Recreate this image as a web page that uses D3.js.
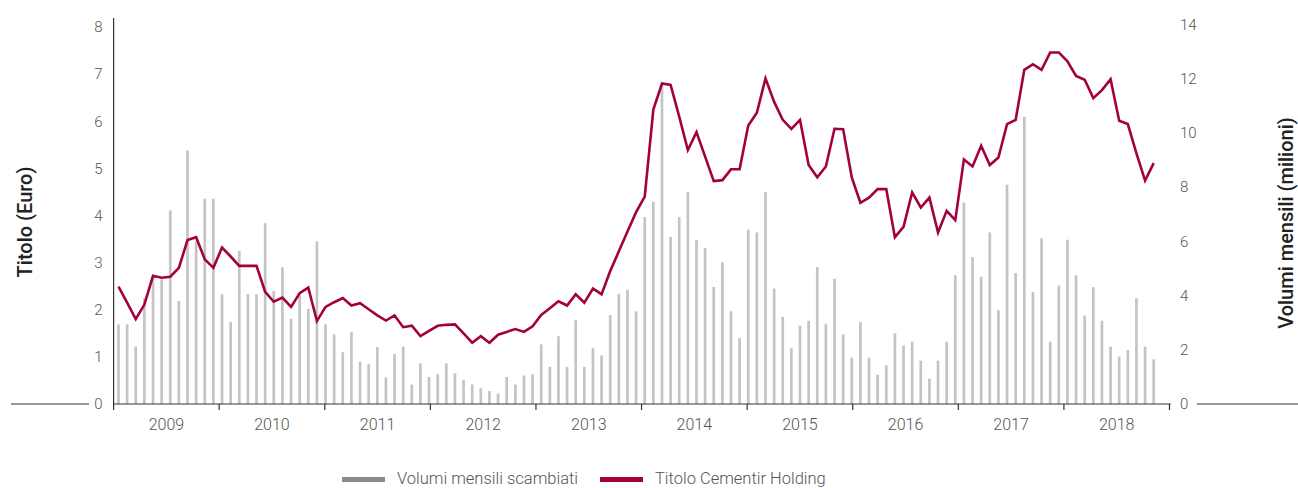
<!DOCTYPE html>
<html>
<head>
<meta charset="utf-8">
<script src="https://cdn.jsdelivr.net/npm/d3@7"></script>
<style>
  body { margin: 0; background: #fff; }
  svg { display: block; }
  text { font-family: Roboto, "Noto Sans", sans-serif; }
</style>
</head>
<body>
<script>
// monthly traded volumes (millions), Jan 2009 onwards
const volumes = [
  2.94, 2.94, 2.12, 3.9, 4.7, 4.6, 7.14, 3.8, 9.35, 6.0, 7.57, 7.57,
  4.05, 3.03, 5.65, 4.05, 4.05, 6.67, 4.17, 5.04, 3.14, 4.0, 3.51, 6.0,
  2.94, 2.57, 1.91, 2.65, 1.56, 1.47, 2.1, 0.98, 1.85, 2.12, 0.72, 1.5,
  1.0, 1.1, 1.5, 1.13, 0.89, 0.72, 0.58, 0.48, 0.38, 1.0, 0.72, 1.05,
  1.1, 2.2, 1.37, 2.5, 1.37, 3.09, 1.37, 2.06, 1.79, 3.28, 4.06, 4.21,
  3.42, 6.9, 7.46, 11.78, 6.16, 6.9, 7.82, 6.05, 5.76, 4.32, 5.23, 3.42,
  2.44, 6.43, 6.33, 7.82, 4.26, 3.21, 2.06, 2.89, 3.07, 5.05, 2.96, 4.62,
  2.57, 1.71, 3.03, 1.71, 1.08, 1.43, 2.61, 2.16, 2.3, 1.6, 0.94, 1.6,
  2.3, 4.75, 7.43, 5.42, 4.7, 6.33, 3.46, 8.09, 4.83, 10.6, 4.13, 6.11,
  2.3, 4.37, 6.06, 4.75, 3.26, 4.31, 3.07, 2.12, 1.75, 1.99, 3.9, 2.12,
  1.65
];

// share price (euro)
const prices = [
  2.49, 2.15, 1.80, 2.11, 2.72, 2.68, 2.70, 2.89, 3.48, 3.54, 3.07, 2.89,
  3.32, 3.13, 2.93, 2.93, 2.93, 2.38, 2.17, 2.26, 2.06, 2.35, 2.47, 1.76,
  2.06, 2.16, 2.25, 2.09, 2.14, 2.01, 1.88, 1.77, 1.88, 1.63, 1.66, 1.44,
  1.55, 1.66, 1.68, 1.69, 1.50, 1.30, 1.44, 1.30, 1.47, 1.53, 1.59, 1.53,
  1.65, 1.89, 2.03, 2.18, 2.09, 2.33, 2.15, 2.45, 2.33, 2.82, 3.24, 3.66,
  4.07, 4.40, 6.25, 6.80, 6.77, 6.10, 5.39, 5.77, 5.25, 4.73, 4.75, 4.98,
  4.98, 5.91, 6.18, 6.91, 6.41, 6.03, 5.84, 6.03, 5.07, 4.81, 5.04, 5.84,
  5.83, 4.81, 4.27, 4.38, 4.56, 4.56, 3.54, 3.76, 4.49, 4.17, 4.38, 3.64,
  4.10, 3.90, 5.19, 5.04, 5.48, 5.07, 5.23, 5.94, 6.03, 7.09, 7.21, 7.09,
  7.46, 7.46, 7.27, 6.96, 6.88, 6.49, 6.66, 6.89, 6.01, 5.94, 5.32, 4.74,
  5.11
];

const years = ["2009", "2010", "2011", "2012", "2013", "2014", "2015", "2016", "2017", "2018"];
const priceTicks = [0, 1, 2, 3, 4, 5, 6, 7, 8];
const volumeTicks = [0, 2, 4, 6, 8, 10, 12, 14];

const legendItems = [
  { label: "Volumi mensili scambiati", color: "#8c8c8c" },
  { label: "Titolo Cementir Holding", color: "#a3003f" }
];

const width = 1298, height = 488;
const baseY = 404;

const svg = d3.select("body").append("svg")
  .attr("width", width)
  .attr("height", height);

const months = d3.range(volumes.length);

// scales
const x = d3.scalePoint().domain(months).range([118.5, 1153.7]);
const xYear = d3.scaleBand().domain(years).range([113.6, 1169.5]);
const yPrice = d3.scaleLinear().domain([0, 8]).range([baseY, 27]);
const yVol = d3.scaleLinear().domain([0, 14]).range([baseY, 24.5]);

// bars
svg.append("g")
  .selectAll("line")
  .data(volumes)
  .enter()
  .append("line")
    .attr("x1", (d, i) => x(i))
    .attr("x2", (d, i) => x(i))
    .attr("y1", yVol(0))
    .attr("y2", d => yVol(d))
    .attr("stroke", "#c4c4c4")
    .attr("stroke-width", 2.7);

// price line
const line = d3.line()
  .x((d, i) => x(i))
  .y(d => yPrice(d));

svg.append("path")
  .datum(prices)
  .attr("d", line)
  .attr("fill", "none")
  .attr("stroke", "#a3003f")
  .attr("stroke-width", 2.6)
  .attr("stroke-linejoin", "miter");

// baseline pieces
const axisColor = "#333";
[[11, 89], [113.6, 1170.7], [1196.7, 1298]].forEach(seg => {
  svg.append("line")
    .attr("x1", seg[0]).attr("x2", seg[1])
    .attr("y1", baseY).attr("y2", baseY)
    .attr("stroke", axisColor).attr("stroke-width", 1.2);
});

// left vertical axis line
svg.append("line")
  .attr("x1", 113.6).attr("x2", 113.6)
  .attr("y1", 18).attr("y2", baseY)
  .attr("stroke", axisColor).attr("stroke-width", 1.2);

// left axis labels
const gLeft = svg.append("g")
  .attr("transform", "translate(113.6,0)")
  .call(d3.axisLeft(yPrice).tickValues(priceTicks).tickSize(0).tickPadding(11));
gLeft.select(".domain").remove();
gLeft.selectAll("text")
  .attr("fill", "#555")
  .style("font-size", "15px")
  .style("font-weight", 300);

// right axis labels
const gRight = svg.append("g")
  .attr("transform", "translate(1170,0)")
  .call(d3.axisRight(yVol).tickValues(volumeTicks).tickSize(0).tickPadding(10));
gRight.select(".domain").remove();
gRight.selectAll("text")
  .attr("fill", "#555")
  .style("font-size", "15px")
  .style("font-weight", 300);

// year ticks and labels
const tickXs = years.map(d => xYear(d)).concat([xYear.range()[1]]);
svg.append("g")
  .selectAll("line")
  .data(tickXs)
  .enter()
  .append("line")
    .attr("x1", d => d).attr("x2", d => d)
    .attr("y1", baseY).attr("y2", baseY + 6)
    .attr("stroke", axisColor).attr("stroke-width", 1.2);

svg.append("g")
  .selectAll("text")
  .data(years)
  .enter()
  .append("text")
    .attr("x", d => xYear(d) + xYear.bandwidth() / 2)
    .attr("y", 430)
    .attr("text-anchor", "middle")
    .attr("fill", "#555")
    .style("font-size", "16px")
    .style("font-weight", 300)
    .text(d => d);

// axis titles
svg.append("text")
  .attr("transform", "translate(32,222) rotate(-90)")
  .attr("text-anchor", "middle")
  .attr("fill", "#222")
  .style("font-size", "20px")
  .style("font-weight", 500)
  .text("Titolo (Euro)");

svg.append("text")
  .attr("transform", "translate(1293,223) rotate(-90)")
  .attr("text-anchor", "middle")
  .attr("fill", "#222")
  .style("font-size", "20px")
  .style("font-weight", 500)
  .text("Volumi mensili (milioni)");

// legend
const legend = svg.append("g");
const legendX = [342, 600];
legendItems.forEach((item, i) => {
  legend.append("rect")
    .attr("x", legendX[i]).attr("y", 477)
    .attr("width", 43).attr("height", 5)
    .attr("fill", item.color);
  legend.append("text")
    .attr("x", legendX[i] + 55).attr("y", 484)
    .attr("fill", "#555")
    .style("font-size", "16.5px")
    .style("font-weight", 300)
    .text(item.label);
});
</script>
</body>
</html>
